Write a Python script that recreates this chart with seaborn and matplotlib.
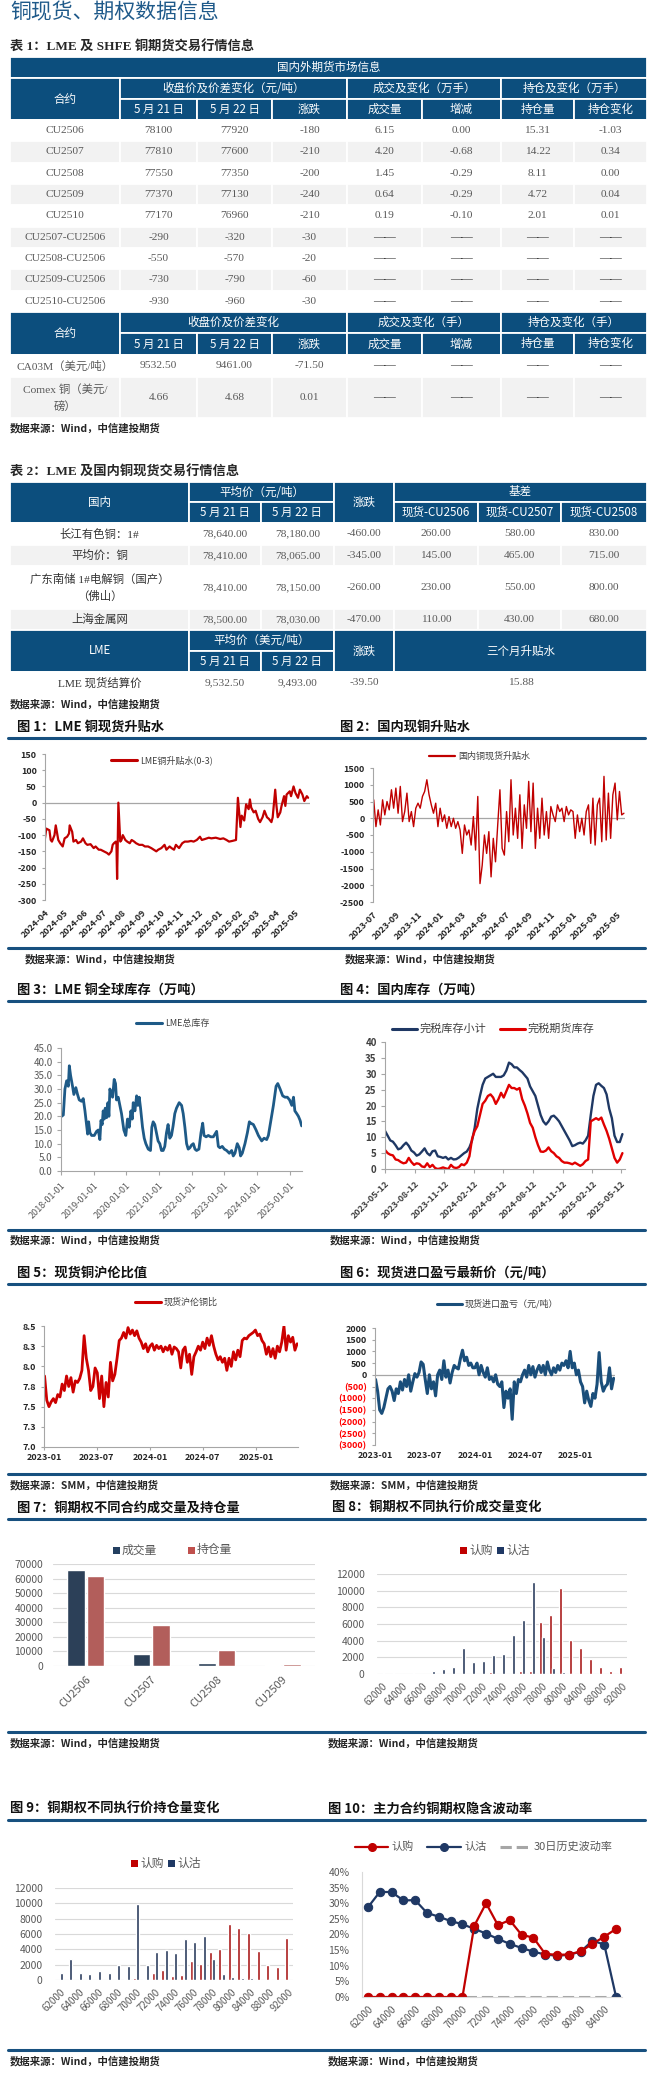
import pandas as pd
import matplotlib
matplotlib.use("Agg")
import matplotlib.pyplot as plt
import matplotlib.dates as mdates
from matplotlib.patches import Rectangle
from matplotlib.lines import Line2D
import seaborn as sns

sns.set_style("white")
plt.rcParams["font.family"] = ["Noto Sans CJK SC", "DejaVu Sans"]
plt.rcParams["axes.unicode_minus"] = False

# ------------------------------------------------------------ table 1
t1_contracts = ["CU2506", "CU2507", "CU2508", "CU2509", "CU2510",
                "CU2507-CU2506", "CU2508-CU2506", "CU2509-CU2506", "CU2510-CU2506"]
t1_close_0521 = [78100, 77810, 77550, 77370, 77170, -290, -550, -730, -930]
t1_close_0522 = [77920, 77600, 77350, 77130, 76960, -320, -570, -790, -960]
t1_change = [-180, -210, -200, -240, -210, -30, -20, -60, -30]
t1_volume = [6.15, 4.20, 1.45, 0.64, 0.19]
t1_volume_chg = [0.00, -0.68, -0.29, -0.29, -0.10]
t1_oi = [15.31, 14.22, 8.11, 4.72, 2.01]
t1_oi_chg = [-1.03, 0.34, 0.00, 0.04, 0.01]
t1_ext_names = ["CA03M（美元/吨）", "Comex 铜（美元/\n磅）"]
t1_ext_0521 = ["9532.50", "4.66"]
t1_ext_0522 = ["9461.00", "4.68"]
t1_ext_change = ["-71.50", "0.01"]
t1_sub = ["5 月 21 日", "5 月 22 日", "涨跌", "成交量", "增减", "持仓量", "持仓变化"]

# ------------------------------------------------------------ table 2
t2_names = ["长江有色铜：1#", "平均价：铜", "广东南储 1#电解铜（国产）\n（佛山）", "上海金属网"]
t2_0521 = ["78,640.00", "78,410.00", "78,410.00", "78,500.00"]
t2_0522 = ["78,180.00", "78,065.00", "78,150.00", "78,030.00"]
t2_change = ["-460.00", "-345.00", "-260.00", "-470.00"]
t2_basis_2506 = ["260.00", "145.00", "230.00", "110.00"]
t2_basis_2507 = ["580.00", "465.00", "550.00", "430.00"]
t2_basis_2508 = ["830.00", "715.00", "800.00", "680.00"]
t2_lme = ["LME 现货结算价", "9,532.50", "9,493.00", "-39.50", "15.88"]

# ------------------------------------------------------------ chart 1: LME cash-3M
c1_dates = [
    "2024-04-01", "2024-04-03", "2024-04-08", "2024-04-10", "2024-04-12", "2024-04-16", "2024-04-18", "2024-04-22", "2024-04-25", "2024-04-29",
    "2024-05-02", "2024-05-06", "2024-05-09", "2024-05-10", "2024-05-14", "2024-05-16", "2024-05-20", "2024-05-23", "2024-05-28", "2024-05-31",
    "2024-06-04", "2024-06-07", "2024-06-12", "2024-06-17", "2024-06-20", "2024-06-25", "2024-06-28",
    "2024-07-03", "2024-07-08", "2024-07-11", "2024-07-15", "2024-07-17", "2024-07-19", "2024-07-22", "2024-07-23", "2024-07-24", "2024-07-25", "2024-07-26", "2024-07-29", "2024-07-31",
    "2024-08-02", "2024-08-06", "2024-08-09", "2024-08-13", "2024-08-16", "2024-08-20", "2024-08-23", "2024-08-28",
    "2024-09-02", "2024-09-06", "2024-09-11", "2024-09-16", "2024-09-20", "2024-09-24", "2024-09-27",
    "2024-10-02", "2024-10-07", "2024-10-10", "2024-10-15", "2024-10-18", "2024-10-22", "2024-10-25", "2024-10-30",
    "2024-11-04", "2024-11-08", "2024-11-13", "2024-11-18", "2024-11-22", "2024-11-27",
    "2024-12-02", "2024-12-05", "2024-12-10", "2024-12-16", "2024-12-20", "2024-12-27",
    "2025-01-03", "2025-01-08", "2025-01-13", "2025-01-17", "2025-01-22", "2025-01-28", "2025-01-31",
    "2025-02-04", "2025-02-06", "2025-02-10", "2025-02-13", "2025-02-17", "2025-02-19", "2025-02-21", "2025-02-25", "2025-02-28",
    "2025-03-04", "2025-03-07", "2025-03-11", "2025-03-14", "2025-03-18", "2025-03-21", "2025-03-25", "2025-03-27", "2025-03-31",
    "2025-04-02", "2025-04-04", "2025-04-08", "2025-04-10", "2025-04-14", "2025-04-16", "2025-04-18", "2025-04-23", "2025-04-25", "2025-04-29",
    "2025-05-02", "2025-05-06", "2025-05-09", "2025-05-13", "2025-05-16", "2025-05-20", "2025-05-22",
]
c1_vals = [
    -110, -80, -85, -115, -120, -100, -70, -115, -125, -135,
    -110, -105, -95, -70, -90, -120, -115, -125, -120, -110,
    -125, -130, -128, -140, -135, -145, -145,
    -150, -155, -160, -150, -130, -125, -120, -130, -235, -125, 0, -120, -115,
    -100, -115, -120, -125, -115, -120, -125, -130,
    -130, -135, -135, -140, -145, -150, -145,
    -140, -130, -145, -135, -140, -145, -130, -140,
    -125, -120, -120, -118, -120, -115,
    -105, -115, -112, -108, -110, -108,
    -112, -110, -115, -120, -118, -115, 15,
    -75, -40, -55, -5, -20, 10, -15, -30, -25,
    -50, -60, -45, -25, -45, -50, -60, -45, 40,
    -10, -45, -30, -10, 20, -10, 25, 35, 20, 50,
    30, 15, 40, 25, 5, 20, 15,
]

# ------------------------------------------------------------ chart 2: domestic spot premium (2023-07 .. 2025-05)
c2_vals = [
    550, -250, 250, -200, 550,
    100, 500, 250, 850, 300,
    900, 150, 950, -100, 200,
    750, -100, 200, -250, 300,
    450, 300, 650, 800, 1150,
    700, 400, 150, 450, -250,
    300, -100, 100, -300, 50,
    -250, 0, -300, -100, -350,
    -1050, -200, -500, -350, -800,
    50, -950, 650, -1950, -1400,
    -500, -1050, -400, -1750, -600,
    -1300, -200, 850, -900, -1100,
    200, -700, 1150, -500, 300,
    -600, 700, -900, 400, -300,
    1100, -400, 1050, -900, 300,
    -600, 600, -500, 200, -600,
    350, 100, -100, 400, 200,
    300, -100, 350, 100, 250,
    200, -600, 100, -400, 0,
    -500, 200, 400, -750, 600,
    -800, 400, 600, -700, 1250,
    -650, 750, -600, 700, 1050,
    -50, 800, 100, 150,
]

# ------------------------------------------------------------ chart 3: LME total stocks (10k t)
c3_dates = [
    "2018-01-08", "2018-01-27", "2018-02-14", "2018-03-05", "2018-03-24", "2018-04-04", "2018-04-18", "2018-05-10", "2018-05-25", "2018-06-16",
    "2018-07-05", "2018-07-24", "2018-08-19", "2018-09-07", "2018-09-26", "2018-10-14", "2018-10-26", "2018-11-06", "2018-11-21", "2018-12-10",
    "2019-01-08", "2019-02-03", "2019-02-22", "2019-03-12", "2019-03-24", "2019-04-07", "2019-04-18", "2019-04-30", "2019-05-11", "2019-05-26",
    "2019-06-10", "2019-06-21", "2019-07-02", "2019-07-17", "2019-08-01", "2019-08-19", "2019-09-03", "2019-09-14", "2019-10-03", "2019-10-21",
    "2019-11-09", "2019-12-05", "2019-12-27",
    "2020-01-15", "2020-02-03", "2020-02-22", "2020-03-08", "2020-03-19", "2020-04-07", "2020-04-26", "2020-05-10", "2020-05-25", "2020-06-09",
    "2020-07-01", "2020-07-20", "2020-08-07", "2020-09-03", "2020-09-28", "2020-10-13", "2020-10-28", "2020-11-15", "2020-12-04", "2020-12-22",
    "2021-01-10", "2021-01-29", "2021-02-17", "2021-03-07", "2021-03-26", "2021-04-13", "2021-05-02", "2021-05-21", "2021-06-08", "2021-06-27",
    "2021-07-16", "2021-08-15", "2021-09-11", "2021-09-29", "2021-10-18", "2021-11-06", "2021-11-24", "2021-12-13",
    "2022-01-01", "2022-01-20", "2022-02-08", "2022-02-26", "2022-03-24", "2022-04-16", "2022-05-05", "2022-05-20", "2022-06-12", "2022-07-07",
    "2022-08-03", "2022-09-01", "2022-10-08", "2022-10-27", "2022-11-14", "2022-12-10",
    "2023-01-02", "2023-01-28", "2023-02-27", "2023-03-25", "2023-04-12", "2023-05-01", "2023-05-27", "2023-06-18", "2023-07-03", "2023-07-22",
    "2023-08-21", "2023-09-17", "2023-10-09", "2023-10-24", "2023-11-23", "2023-12-23",
    "2024-01-18", "2024-02-24", "2024-03-22", "2024-04-20", "2024-05-09", "2024-06-04", "2024-07-04", "2024-08-03", "2024-08-22", "2024-09-17",
    "2024-10-16", "2024-11-11", "2024-12-07",
    "2025-01-01", "2025-01-26", "2025-02-14", "2025-03-01", "2025-03-22", "2025-04-10", "2025-04-29", "2025-05-16",
]
c3_vals = [
    20, 20.5, 30, 33, 31, 38.5, 35, 31, 28, 30.5,
    28, 26, 25.5, 26.5, 22, 17, 13.5, 18, 14, 13,
    13, 14.5, 15, 11.5, 18.5, 17, 22, 19, 23, 19.5,
    25, 20, 30, 28, 27, 33.5, 32, 26, 27, 24,
    21, 15, 13,
    19, 16, 22, 19, 25, 22, 27.5, 24, 27, 23,
    16, 12, 10, 8, 7.5, 16, 18, 17, 14, 11,
    10, 7.5, 7.5, 9, 14, 17, 12, 13, 16.5, 21,
    23, 25, 24, 21, 16, 10, 8, 8.5,
    9.5, 10, 8, 7.5, 8, 14, 17.5, 13, 12.5, 13,
    12.5, 12.5, 14.5, 9, 8.5, 9,
    8, 7.5, 6.5, 7.5, 5.5, 6.5, 10, 8.5, 5.5, 6.5,
    10, 14, 18, 17.5, 17, 15,
    13, 11, 12, 11.5, 13, 18, 24, 31, 32, 30,
    27.5, 27, 27,
    26, 24, 27, 22, 21, 20, 18.5, 16.5,
]

# ------------------------------------------------------------ chart 4: bonded stocks (10k t), 2023-05-12 .. 2025-05
c4_total = [
    12, 10.5, 9, 8.6, 7.5, 6.2, 6.5, 7.5, 8.3, 7.3,
    5.8, 5.2, 4.2, 4.6, 5.5, 6.5, 5, 4.3, 5.6, 5.8,
    4, 3.8, 3.5, 3.8, 3, 3.5, 3, 3.1, 3.6, 4.3,
    5, 5.5, 6.8, 9, 13, 19, 23, 26.5, 28.5, 29,
    29.5, 30, 29, 29, 29, 29.5, 31, 33.5, 33, 32,
    32, 31.2, 30.5, 29.5, 28.5, 26, 24.5, 23, 20, 17,
    15, 14, 15, 16.5, 16.8, 16, 15, 13.5, 12, 10.5,
    9, 7.2, 7.5, 8, 8.3, 8, 9, 10.5, 17, 23,
    26.5, 27, 26.2, 25.5, 23.5, 19, 16, 10.5, 8.5, 8.5,
    11,
]
c4_futures = [
    6, 5, 4.5, 4.3, 3, 2.8, 2.2, 1.8, 2, 3.5,
    2.2, 1.3, 1.8, 1.6, 0.8, 0.6, 1.8, 0.6, 1.3, 0.3,
    0, 0.2, 0.5, 0.2, 0, 1.3, 0.5, 0.3, 0.6, 1.5,
    1.2, 2, 4, 9.5, 12, 13.5, 17, 20.5, 21.5, 23,
    23.5, 22.5, 20.5, 22, 24, 22.5, 24.5, 26.5, 25.5, 25.5,
    25, 25.5, 22, 20, 17.5, 14.5, 13, 10, 7.5, 5.5,
    5.4, 5.8, 6.8, 5.6, 5, 4, 3.5, 2.5, 2, 2,
    1.8, 1.5, 2, 1.5, 1, 1.5, 2.5, 3, 15, 15.5,
    16, 15.5, 16.2, 14, 12, 9.5, 6.5, 3.5, 2, 3,
    5,
]

# ------------------------------------------------------------ chart 5: SHFE/LME spot ratio, 2023-01 .. 2025-05
c5_vals = [
    7.88, 7.58, 7.50, 7.56,
    7.60, 7.55, 7.65, 7.62,
    7.78, 7.70, 7.88, 7.75,
    7.86, 7.68, 7.82, 7.80,
    7.85, 7.95, 8.38, 8.10,
    7.95, 7.70, 7.75, 7.98,
    7.92, 7.60, 7.88, 7.50,
    7.80, 7.62, 8.05, 7.82,
    7.90, 8.10, 8.32, 8.35,
    8.42, 8.35, 8.48, 8.40,
    8.45, 8.38, 8.44, 8.35,
    8.30, 8.22, 8.28, 8.18,
    8.25, 8.28, 8.20, 8.26,
    8.22, 8.25, 8.18, 8.24,
    8.20, 8.26, 8.15, 8.24,
    8.22, 8.18, 7.98, 8.20,
    8.24, 8.05, 8.15, 7.90,
    8.12, 8.18, 8.25, 8.20,
    8.30, 8.22, 8.35, 8.26,
    8.38, 8.25, 8.15, 8.08,
    8.12, 8.05, 8.10, 7.95,
    8.10, 8.00, 8.18, 8.08,
    8.20, 8.12, 8.32, 8.35,
    8.34, 8.38, 8.40, 8.42,
    8.45, 8.38, 8.40, 8.32,
    8.28, 8.15, 8.24, 8.12,
    8.22, 8.10, 8.25, 8.18,
    8.30, 8.50, 8.20, 8.38,
    8.30, 8.36, 8.20, 8.28,
]

# ------------------------------------------------------------ chart 6: import profit (yuan/t), 2023-01 .. 2025-05
c6_vals = [
    -200, -700, -1500, -1650,
    -1400, -1000, -600, -500,
    -700, -1100, -600, -800,
    -300, -650, -200, -500,
    0, -700, -300, 50,
    -100, 100, 550, 450,
    -200, -800, 0, -600,
    -300, -900, 0, 200,
    -200, 600, -100, 200,
    -350, 100, 400, 300,
    250, 700, 1050, 600,
    750, 400, 500, 300,
    300, 500, 0, 400,
    100, -100, 300, -200,
    -100, -300, 0, -400,
    -500, -300, -1400, -700,
    -1000, -600, -1900, -300,
    -800, -200, -300, 0,
    200, -100, 400, 0,
    350, -100, 200, 400,
    100, 400, 0, 550,
    200, 0, 300, 100,
    400, 200, 500, 400,
    600, 300, 1000, 300,
    500, 0, 200, -300,
    -500, -1200, -700, -1100,
    -1350, -800, -1000, -400,
    950, -300, -700, -500,
    -400, 300, -600, -150,
]

# ------------------------------------------------------------ chart 7: options by contract
c7_contracts = ["CU2506", "CU2507", "CU2508", "CU2509"]
c7_volume = [66000, 8200, 2200, 600]
c7_oi = [62000, 28000, 11000, 1700]

# ------------------------------------------------------------ charts 8/9: options by strike
strikes = ["62000", "63000", "64000", "65000", "66000", "67000", "68000", "69000", "70000", "71000",
           "72000", "73000", "74000", "75000", "76000", "77000", "78000", "79000", "80000", "82000",
           "84000", "86000", "88000", "90000", "92000"]
c8_call = [0, 0, 0, 0, 50, 0, 0, 0, 0, 60, 0, 300, 60, 60, 350, 400, 6300, 7100, 10300, 4100, 3150, 1800, 800, 380, 900]
c8_put = [80, 100, 30, 80, 50, 350, 550, 800, 3100, 1400, 1600, 2300, 2400, 4700, 6500, 11100, 4400, 750, 250, 80, 0, 0, 0, 0, 0]
c9_call = [0, 0, 0, 0, 0, 0, 50, 100, 300, 150, 950, 1300, 550, 700, 2450, 2050, 3600, 4100, 7300, 6800, 6100, 3800, 1900, 1700, 5500]
c9_put = [950, 2700, 900, 800, 1200, 900, 1950, 1850, 9900, 2000, 3600, 3900, 3500, 5400, 5000, 5800, 2700, 800, 350, 300, 250, 50, 80, 20, 0]

# ------------------------------------------------------------ chart 10: implied vol (%)
c10_strikes = ["62000", "63000", "64000", "65000", "66000", "67000", "68000", "69000", "70000", "71000", "72000",
               "73000", "74000", "75000", "76000", "77000", "78000", "79000", "80000", "82000", "84000", "86000"]
c10_call = [0, 0, 0, 0, 0, 0, 0, 0, 0, 22.8, 30.0, 23.0, 24.6, 19.9, 19.0, 13.8, 13.5, 13.6, 14.6, 17.0, 19.3, 21.8]
c10_put = [28.7, 33.6, 33.6, 30.9, 31.0, 26.9, 25.7, 24.3, 23.3, 21.8, 20.3, 18.6, 17.0, 15.7, 14.5, 13.6, 13.2, 13.5, 14.5, 18.0, 16.8, 0]
c10_hv = [0, 0, 0, 0, 0, 0, 0, 0, 0, 0, 0, 0, 0, 0, 0, 0, 0, 0, 0, 0, 0, 0]

# ============================================================ drawing
W, H = 651, 2073
HDR = "#0C4E7D"
RULE = "#17507F"
ROWGRAY = "#F2F2F2"
RED = "#C00000"
NAVY = "#1F3864"
SERIF = ["Liberation Serif", "Noto Sans CJK SC"]
SANS = ["Noto Sans CJK SC", "DejaVu Sans"]

fig = plt.figure(figsize=(W / 100, H / 100), dpi=100)
bg = fig.add_axes([0, 0, 1, 1])
bg.set_xlim(0, W)
bg.set_ylim(H, 0)
bg.axis("off")


def px_axes(l, t, r, b):
    return fig.add_axes([l / W, 1 - b / H, (r - l) / W, (b - t) / H])


def cell(l, t, r, b, txt="", fc="white", color="#595959", size=8.2, family=None):
    bg.add_patch(Rectangle((l, t), r - l, b - t, facecolor=fc, edgecolor="white", lw=1.3, zorder=1))
    if txt != "":
        bg.text((l + r) / 2, (t + b) / 2, txt, ha="center", va="center", color=color,
                fontsize=size, family=family or SERIF, zorder=2, linespacing=1.7)


def hcell(l, t, r, b, txt):
    cell(l, t, r, b, txt, fc=HDR, color="white", size=8.3, family=SANS)


DASH = "——"

# title
bg.text(10, 12, "铜现货、期权数据信息", fontsize=15, color="#1F5A8A", va="center")

# ---- table 1
bg.text(10, 47, "表 1：LME 及 SHFE 铜期货交易行情信息", fontsize=9.5, weight="bold", va="center", family=SERIF)
c = [10, 120, 197, 272, 347, 422, 501, 574, 647]
hcell(c[0], 57, c[8], 78, "国内外期货市场信息")
hcell(c[0], 78, c[1], 120, "合约")
hcell(c[1], 78, c[4], 99, "收盘价及价差变化（元/吨）")
hcell(c[4], 78, c[6], 99, "成交及变化（万手）")
hcell(c[6], 78, c[8], 99, "持仓及变化（万手）")
for i, h in enumerate(t1_sub):
    hcell(c[i + 1], 99, c[i + 2], 120, h)
row_h = (312 - 120) / 9
for k in range(9):
    t = 120 + k * row_h
    fc = ROWGRAY if k % 2 else "white"
    if k < 5:
        tail = [f"{t1_volume[k]:.2f}", f"{t1_volume_chg[k]:.2f}", f"{t1_oi[k]:.2f}", f"{t1_oi_chg[k]:.2f}"]
    else:
        tail = [DASH] * 4
    vals = [t1_contracts[k], str(t1_close_0521[k]), str(t1_close_0522[k]), str(t1_change[k])] + tail
    for j in range(8):
        cell(c[j], t, c[j + 1], t + row_h, vals[j], fc=fc,
             color="#262626" if vals[j] == DASH else "#595959")
hcell(c[0], 312, c[1], 355, "合约")
hcell(c[1], 312, c[4], 333, "收盘价及价差变化")
hcell(c[4], 312, c[6], 333, "成交及变化（手）")
hcell(c[6], 312, c[8], 333, "持仓及变化（手）")
for i, h in enumerate(t1_sub):
    hcell(c[i + 1], 333, c[i + 2], 355, h)
for k, (t, b) in enumerate([(355, 377), (377, 418)]):
    fc = ROWGRAY if k % 2 else "white"
    vals = [t1_ext_names[k], t1_ext_0521[k], t1_ext_0522[k], t1_ext_change[k]] + [DASH] * 4
    for j in range(8):
        cell(c[j], t, c[j + 1], b, vals[j], fc=fc, color="#262626" if vals[j] == DASH else "#595959")
bg.text(10, 428, "数据来源：Wind，中信建投期货", fontsize=7.5, weight="bold", va="center", color="#262626")

# ---- table 2
bg.text(10, 472, "表 2：LME 及国内铜现货交易行情信息", fontsize=9.5, weight="bold", va="center", family=SERIF)
c2 = [10, 189, 261, 334, 394, 478, 561, 647]
hcell(c2[0], 482, c2[1], 523, "国内")
hcell(c2[1], 482, c2[3], 502, "平均价（元/吨）")
hcell(c2[1], 502, c2[2], 523, "5 月 21 日")
hcell(c2[2], 502, c2[3], 523, "5 月 22 日")
hcell(c2[3], 482, c2[4], 523, "涨跌")
hcell(c2[4], 482, c2[7], 502, "基差")
hcell(c2[4], 502, c2[5], 523, "现货-CU2506")
hcell(c2[5], 502, c2[6], 523, "现货-CU2507")
hcell(c2[6], 502, c2[7], 523, "现货-CU2508")
for k, (t, b) in enumerate([(523, 545), (545, 566), (566, 609), (609, 630)]):
    fc = ROWGRAY if k % 2 else "white"
    vals = [t2_names[k], t2_0521[k], t2_0522[k], t2_change[k], t2_basis_2506[k], t2_basis_2507[k], t2_basis_2508[k]]
    for j in range(7):
        cell(c2[j], t, c2[j + 1], b, vals[j], fc=fc, color="#333333" if j == 0 else "#595959")
hcell(c2[0], 630, c2[1], 672, "LME")
hcell(c2[1], 630, c2[3], 651, "平均价（美元/吨）")
hcell(c2[1], 651, c2[2], 672, "5 月 21 日")
hcell(c2[2], 651, c2[3], 672, "5 月 22 日")
hcell(c2[3], 630, c2[4], 672, "涨跌")
hcell(c2[4], 630, c2[7], 672, "三个月升贴水")
for j in range(4):
    cell(c2[j], 672, c2[j + 1], 693, t2_lme[j], color="#333333" if j == 0 else "#595959")
cell(c2[4], 672, c2[7], 693, t2_lme[4])
bg.text(10, 704, "数据来源：Wind，中信建投期货", fontsize=7.5, weight="bold", va="center", color="#262626")

# ---- section frames
sections = [
    (727, 738, 948, 959, ("图 1：LME 铜现货升贴水", 17), ("图 2：国内现铜升贴水", 340), (25, 345), "Wind"),
    (990, 1001, 1230, 1240, ("图 3：LME 铜全球库存（万吨）", 17), ("图 4：国内库存（万吨）", 340), (10, 330), "Wind"),
    (1273, 1284, 1474, 1485, ("图 5：现货铜沪伦比值", 17), ("图 6：现货进口盈亏最新价（元/吨）", 340), (10, 330), "SMM"),
    (1508, 1519, 1732, 1743, ("图 7：铜期权不同合约成交量及持仓量", 17), ("图 8：铜期权不同执行价成交量变化", 332), (10, 328), "Wind"),
    (1809, 1820, 2050, 2061, ("图 9：铜期权不同执行价持仓量变化", 10), ("图 10：主力合约铜期权隐含波动率", 328), (10, 328), "Wind"),
]
for ty, top, bot, sy, lt, rt, sx, src in sections:
    bg.text(lt[1], ty, lt[0], fontsize=9.5, weight="bold", va="center", color="#111111")
    bg.text(rt[1], ty, rt[0], fontsize=9.5, weight="bold", va="center", color="#111111")
    bg.add_line(Line2D([8, 645], [top, top], color=RULE, lw=2.2))
    bg.add_line(Line2D([8, 645], [bot, bot], color=RULE, lw=2.2))
    for x in sx:
        bg.text(x, sy, f"数据来源：{src}，中信建投期货", fontsize=7.5, weight="bold", va="center", color="#262626")


def leg_line(x0, x1, y, color, label, size=7, ls="-", lw=2.2, marker=None, tcolor="#404040"):
    bg.add_line(Line2D([x0, x1], [y, y], color=color, lw=lw, ls=ls))
    if marker:
        bg.add_line(Line2D([(x0 + x1) / 2], [y], color=color, marker=marker, ms=5.5))
    bg.text(x1 + 3, y, label, va="center", ha="left", fontsize=size, color=tcolor)


def leg_box(x, y, color, label, size=8.5):
    bg.add_patch(Rectangle((x, y - 3.5), 7, 7, facecolor=color, edgecolor="none"))
    bg.text(x + 9, y, label, va="center", ha="left", fontsize=size, color="#595959")


def clean(ax, left=True, bottom=False, col="#A6A6A6"):
    for s in ["top", "right"]:
        ax.spines[s].set_visible(False)
    ax.spines["left"].set_visible(left)
    ax.spines["bottom"].set_visible(bottom)
    ax.spines["left"].set_color(col)
    ax.spines["bottom"].set_color(col)
    ax.spines["left"].set_linewidth(0.8)
    ax.spines["bottom"].set_linewidth(0.8)
    ax.set(xlabel="", ylabel="")
    ax.set_facecolor("none")


def date_ticks(ax, ticks, fmt, rotate=True, size=6.5, weight="bold", color="#262626"):
    labels = [t.strftime(fmt) for t in ticks]
    kw = dict(fontsize=size, fontweight=weight, color=color)
    if rotate:
        kw.update(rotation=45, ha="right", rotation_mode="anchor")
    ax.set_xticks(mdates.date2num(ticks), labels, **kw)


def num_yticks(ax, ticks, labels, size=6.5, weight="bold", color="#262626"):
    ax.set_yticks(ticks, labels, fontsize=size, fontweight=weight, color=color)


# ---- chart 1
ax1 = px_axes(45, 754, 310, 900)
sns.lineplot(x=pd.to_datetime(c1_dates), y=c1_vals, ax=ax1, color=RED, linewidth=1.6)
ax1.axhline(0, color="#A6A6A6", lw=0.9, zorder=0)
ax1.set_ylim(-300, 150)
num_yticks(ax1, list(range(-300, 151, 50)), [str(v) for v in range(-300, 151, 50)])
ax1.set_xlim(mdates.date2num(pd.Timestamp("2024-04-01")), mdates.date2num(pd.Timestamp("2025-05-25")))
date_ticks(ax1, pd.date_range("2024-04-01", "2025-05-01", freq="MS"), "%Y-%m")
clean(ax1)
ax1.tick_params(axis="y", left=True, length=2, color="#A6A6A6", pad=4)
ax1.tick_params(axis="x", length=0, pad=6)
leg_line(111, 137, 760, RED, "LME铜升贴水(0-3)", size=6.5)

# ---- chart 2
ax2 = px_axes(373, 768, 625, 902)
sns.lineplot(x=pd.date_range("2023-07-03", "2025-05-22", periods=len(c2_vals)), y=c2_vals, ax=ax2,
             color=RED, linewidth=1.0)
ax2.axhline(0, color="#A6A6A6", lw=0.9, zorder=0)
ax2.set_ylim(-2500, 1500)
num_yticks(ax2, list(range(-2500, 1501, 500)), [str(v) for v in range(-2500, 1501, 500)])
ax2.set_xlim(mdates.date2num(pd.Timestamp("2023-07-01")), mdates.date2num(pd.Timestamp("2025-05-25")))
date_ticks(ax2, pd.date_range("2023-07-01", "2025-05-01", freq="2MS"), "%Y-%m")
clean(ax2)
ax2.tick_params(axis="y", left=True, length=2, color="#A6A6A6", pad=4)
ax2.tick_params(axis="x", length=0, pad=6)
leg_line(429, 455, 756, RED, "国内铜现货升贴水", size=6.5, lw=1.6)

# ---- chart 3
ax3 = px_axes(61, 1048, 302, 1171)
sns.lineplot(x=pd.to_datetime(c3_dates), y=c3_vals, ax=ax3, color="#1E5A87", linewidth=2.0)
ax3.set_ylim(0, 45)
num_yticks(ax3, [0, 5, 10, 15, 20, 25, 30, 35, 40, 45], [f"{v:.1f}" for v in range(0, 46, 5)],
           size=7, weight="normal", color="#595959")
ax3.set_xlim(mdates.date2num(pd.Timestamp("2018-01-01")), mdates.date2num(pd.Timestamp("2025-05-20")))
date_ticks(ax3, pd.date_range("2018-01-01", "2025-01-01", freq="YS"), "%Y-%m-%d", size=6.5,
           weight="normal", color="#595959")
clean(ax3, bottom=True)
ax3.tick_params(axis="y", left=True, length=3, color="#A6A6A6", pad=3)
ax3.tick_params(axis="x", bottom=True, length=3, color="#A6A6A6", pad=4)
leg_line(136, 162, 1023, "#1E5A87", "LME总库存", size=6.5)

# ---- chart 4
ax4 = px_axes(385, 1042, 625, 1169)
c4_x1 = pd.date_range("2023-05-12", "2025-05-16", periods=len(c4_total))
c4_x2 = pd.date_range("2023-05-12", "2025-05-16", periods=len(c4_futures))
sns.lineplot(x=c4_x1, y=c4_total, ax=ax4, color=NAVY, linewidth=1.7)
sns.lineplot(x=c4_x2, y=c4_futures, ax=ax4, color="#E00000", linewidth=1.7)
ax4.set_ylim(0, 40)
num_yticks(ax4, list(range(0, 41, 5)), [str(v) for v in range(0, 41, 5)], size=7, color="#404040")
ax4.set_xlim(mdates.date2num(pd.Timestamp("2023-05-12")), mdates.date2num(pd.Timestamp("2025-05-24")))
date_ticks(ax4, pd.date_range("2023-05-12", "2025-05-12", freq=pd.DateOffset(months=3)), "%Y-%m-%d",
           size=6.5, color="#404040")
clean(ax4, bottom=True)
ax4.tick_params(axis="y", left=True, length=3, color="#A6A6A6", pad=3)
ax4.tick_params(axis="x", bottom=True, length=3, color="#A6A6A6", pad=4)
leg_line(392, 417, 1029, NAVY, "完税库存小计", size=8)
leg_line(500, 525, 1029, "#E00000", "完税期货库存", size=8)

# ---- chart 5
ax5 = px_axes(44, 1326, 298, 1447)
sns.lineplot(x=pd.date_range("2023-01-03", "2025-05-22", periods=len(c5_vals)), y=c5_vals, ax=ax5,
             color="#CC0000", linewidth=2.0)
ax5.set_ylim(7.0, 8.5)
num_yticks(ax5, [7.0, 7.25, 7.5, 7.75, 8.0, 8.25, 8.5], ["7.0", "7.3", "7.5", "7.8", "8.0", "8.3", "8.5"])
ax5.set_xlim(mdates.date2num(pd.Timestamp("2023-01-01")), mdates.date2num(pd.Timestamp("2025-05-25")))
date_ticks(ax5, pd.date_range("2023-01-01", "2025-01-01", freq="6MS"), "%Y-%m", rotate=False)
clean(ax5, bottom=True)
ax5.tick_params(axis="y", left=True, length=2, color="#A6A6A6", pad=4)
ax5.tick_params(axis="x", bottom=True, length=2, color="#A6A6A6", pad=2)
leg_line(135, 161, 1302, "#CC0000", "现货沪伦铜比", size=6.5)

# ---- chart 6
ax6 = px_axes(375, 1328, 615, 1445)
sns.lineplot(x=pd.date_range("2023-01-03", "2025-05-20", periods=len(c6_vals)), y=c6_vals, ax=ax6,
             color="#1A4E7A", linewidth=2.2)
ax6.axhline(0, color="#A6A6A6", lw=0.9, zorder=0)
ax6.set_ylim(-3000, 2000)
y6 = list(range(-3000, 2001, 500))
num_yticks(ax6, y6, [f"({-v})" if v < 0 else str(v) for v in y6])
for lab, v in zip(ax6.get_yticklabels(), y6):
    if v < 0:
        lab.set_color("#FF0000")
ax6.set_xlim(mdates.date2num(pd.Timestamp("2023-01-01")), mdates.date2num(pd.Timestamp("2025-05-25")))
date_ticks(ax6, pd.date_range("2023-01-01", "2025-01-01", freq="6MS"), "%Y-%m", rotate=False)
clean(ax6)
ax6.tick_params(axis="y", left=True, length=2, color="#A6A6A6", pad=4)
ax6.tick_params(axis="x", length=0, pad=4)
leg_line(437, 462, 1304, "#1A4E7A", "现货进口盈亏（元/吨）", size=6.5)


def bar_style(ax, top, step, size=7.5):
    ax.set_ylim(0, top)
    ticks = list(range(0, top + 1, step))
    ax.set_yticks(ticks, [str(v) for v in ticks], fontsize=size, color="#595959")
    ax.yaxis.grid(True, color="#D9D9D9", lw=0.8)
    ax.set_axisbelow(True)
    clean(ax, left=False)
    ax.tick_params(axis="both", length=0)


# ---- chart 7
ax7 = px_axes(53, 1564, 315, 1666)
df7 = pd.DataFrame({"合约": c7_contracts * 2, "量": c7_volume + c7_oi,
                    "类别": ["成交量"] * 4 + ["持仓量"] * 4})
sns.barplot(data=df7, x="合约", y="量", hue="类别", palette={"成交量": "#243F60", "持仓量": "#C0504D"},
            width=0.6, gap=0.12, ax=ax7, legend=False)
bar_style(ax7, 70000, 10000, size=7.5)
ax7.set_xticks(range(4), c7_contracts, rotation=45, ha="right", rotation_mode="anchor", fontsize=8, color="#595959")
ax7.tick_params(axis="x", pad=6)
ax7.tick_params(axis="y", pad=7)
leg_box(113, 1550, "#243F60", "成交量")
leg_box(188, 1550, "#C0504D", "持仓量")


def strike_bars(ax, call, put):
    df = pd.DataFrame({"行权价": strikes * 2, "量": call + put,
                       "类别": ["认购"] * len(strikes) + ["认沽"] * len(strikes)})
    sns.barplot(data=df, x="行权价", y="量", hue="类别", palette={"认购": RED, "认沽": NAVY},
                width=0.7, gap=0.1, ax=ax, legend=False)
    bar_style(ax, 12000, 2000, size=7.5)
    ax.set_xticks(range(0, len(strikes), 2), strikes[::2], rotation=45, ha="right",
                  rotation_mode="anchor", fontsize=7, color="#595959")
    ax.tick_params(axis="x", pad=5)
    ax.tick_params(axis="y", pad=9)


# ---- chart 8
ax8 = px_axes(377, 1574, 627, 1674)
strike_bars(ax8, c8_call, c8_put)
leg_box(460, 1550, RED, "认购")
leg_box(497, 1550, NAVY, "认沽")

# ---- chart 9
ax9 = px_axes(55, 1888, 293, 1980)
strike_bars(ax9, c9_call, c9_put)
leg_box(131, 1863, RED, "认购")
leg_box(168, 1863, NAVY, "认沽")

# ---- chart 10
ax10 = px_axes(362, 1872, 622, 1997)
sns.lineplot(x=c10_strikes, y=c10_hv, ax=ax10, color="#A6A6A6", linewidth=2.2, linestyle="--", sort=False)
sns.lineplot(x=c10_strikes, y=c10_put, ax=ax10, color=NAVY, linewidth=1.6, marker="o", markersize=6,
             markeredgecolor=NAVY, sort=False)
sns.lineplot(x=c10_strikes, y=c10_call, ax=ax10, color=RED, linewidth=1.6, marker="o", markersize=6,
             markeredgecolor=RED, sort=False)
ax10.set_xlim(-0.5, len(c10_strikes) - 0.5)
ax10.set_ylim(0, 40)
ax10.set_yticks(list(range(0, 41, 5)), [f"{v}%" for v in range(0, 41, 5)], fontsize=7.5, color="#595959")
ax10.set_xticks(range(0, len(c10_strikes), 2), c10_strikes[::2], rotation=45, ha="right",
                rotation_mode="anchor", fontsize=7, color="#595959")
clean(ax10, bottom=True, col="#D9D9D9")
ax10.tick_params(axis="both", length=0)
ax10.tick_params(axis="y", pad=9)
ax10.tick_params(axis="x", pad=5)
leg_line(355, 388, 1847, RED, "认购", size=8, marker="o", lw=1.6, tcolor="#595959")
leg_line(427, 461, 1847, NAVY, "认沽", size=8, marker="o", lw=1.6, tcolor="#595959")
leg_line(500, 531, 1847, "#A6A6A6", "30日历史波动率", size=8, ls="--", lw=2.2, tcolor="#595959")

fig.savefig("out.png", dpi=100)
